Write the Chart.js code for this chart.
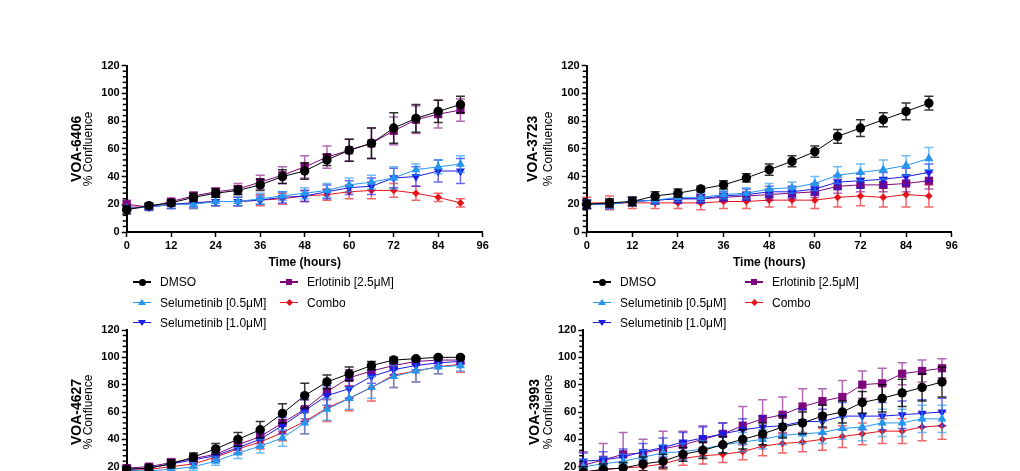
<!DOCTYPE html>
<html>
<head>
<meta charset="utf-8">
<script src="https://cdn.jsdelivr.net/npm/chart.js@4.4.1/dist/chart.umd.min.js"></script>
<style>
  html, body { margin: 0; padding: 0; background: #fff; }
  body { width: 1020px; height: 471px; overflow: hidden; position: relative;
         font-family: "Liberation Sans", Arial, sans-serif; }
  canvas { position: absolute; }
  .legend { position: absolute; left: 0; top: 0; font-size: 12px; color: #000; z-index: 2; }
  .item { position: absolute; height: 14px; white-space: nowrap; }
  .line { position: absolute; left: 0; top: 6px; width: 18px; height: 1.5px; }
  .sym { position: absolute; }
  .txt { position: absolute; left: 27px; top: 0; line-height: 14px; }
</style>
</head>
<body>
<canvas id="c6406"></canvas>
<canvas id="c3723"></canvas>
<canvas id="c4627"></canvas>
<canvas id="c3993"></canvas>
<div class="legend" id="legend"></div>
<script>
const FONT = '"Liberation Sans", Arial, sans-serif';

// time points (hours)
const hoursA = [0, 6, 12, 18, 24, 30, 36, 42, 48, 54, 60, 66, 72, 78, 84, 90];
const hoursB = [0, 6, 12, 18, 24, 30, 36, 42, 48, 54, 60, 66, 72, 78, 84, 90, 96, 102, 108];
const xTicksA = [0, 12, 24, 36, 48, 60, 72, 84, 96];
const xTicksB = [0, 12, 24, 36, 48, 60, 72, 84, 96, 108];
const yTicks = [0, 20, 40, 60, 80, 100, 120];

const seriesNames = ['DMSO', 'Selumetinib [0.5μM]', 'Selumetinib [1.0μM]', 'Erlotinib [2.5μM]', 'Combo'];

// VOA-6406  (mean, SD)
const dmso6406 = [16, 19, 21, 25, 28, 30, 34, 40, 44, 52, 59, 64, 75, 82, 87, 92];
const dmso6406Err = [3, 2, 2, 3, 3, 3, 4, 5, 6, 4, 8, 11, 11, 10, 8, 6];
const sel05_6406 = [17, 18, 20, 20, 22, 22, 24, 26, 28, 30, 34, 36, 39, 45, 47, 49];
const sel05_6406Err = [2, 2, 3, 3, 3, 3, 4, 3, 4, 5, 5, 5, 8, 4, 5, 6];
const sel10_6406 = [17, 18, 20, 21, 22, 22, 23, 25, 26, 29, 32, 33, 39, 40, 44, 44];
const sel10_6406Err = [2, 2, 3, 3, 3, 3, 3, 4, 4, 5, 5, 6, 7, 7, 8, 9];
const erlo6406 = [20, 18, 22, 26, 29, 31, 36, 41, 47, 54, 59, 64, 73, 81, 85, 88];
const erlo6406Err = [3, 2, 2, 3, 3, 4, 5, 6, 8, 8, 8, 11, 10, 10, 10, 8];
const combo6406 = [18, 18, 20, 21, 22, 22, 23, 24, 26, 27, 29, 30, 30, 28, 25, 21];
const combo6406Err = [2, 2, 3, 4, 3, 3, 4, 4, 4, 4, 5, 6, 5, 5, 3, 3];

// VOA-3723
const dmso3723 = [20, 21, 22, 26, 28, 31, 34, 39, 45, 51, 58, 69, 75, 81, 87, 93];
const dmso3723Err = [3, 3, 3, 3, 3, 2, 3, 3, 4, 4, 4, 5, 6, 5, 6, 5];
const sel05_3723 = [20, 20, 22, 23, 25, 25, 27, 28, 31, 32, 35, 41, 43, 45, 48, 53];
const sel05_3723Err = [3, 3, 3, 3, 3, 3, 3, 4, 4, 4, 5, 6, 6, 7, 7, 8];
const sel10_3723 = [20, 20, 22, 23, 24, 24, 26, 27, 29, 29, 31, 36, 37, 38, 40, 43];
const sel10_3723Err = [3, 3, 3, 3, 3, 3, 3, 4, 4, 4, 4, 5, 5, 5, 6, 6];
const erlo3723 = [20, 20, 22, 23, 24, 24, 25, 26, 27, 28, 29, 33, 34, 34, 35, 37];
const erlo3723Err = [3, 3, 3, 3, 3, 3, 3, 3, 4, 4, 4, 5, 5, 5, 6, 6];
const combo3723 = [21, 21, 21, 21, 21, 21, 22, 22, 23, 23, 23, 25, 26, 25, 27, 26];
const combo3723Err = [4, 5, 4, 4, 4, 5, 5, 5, 5, 5, 6, 7, 7, 7, 9, 8];

// VOA-4627
const dmso4627 = [18, 19, 22, 27, 33, 40, 47, 59, 72, 82, 88, 94, 98, 99, 100, 100];
const dmso4627Err = [2, 2, 3, 3, 4, 5, 6, 7, 9, 5, 5, 3, 2, 1, 1, 1];
const sel05_4627 = [17, 17, 18, 20, 24, 30, 35, 41, 52, 62, 70, 78, 86, 90, 93, 94];
const sel05_4627Err = [2, 2, 2, 3, 3, 4, 5, 6, 8, 8, 8, 8, 8, 8, 5, 4];
const sel10_4627 = [18, 19, 22, 25, 28, 34, 40, 50, 61, 72, 77, 86, 91, 94, 96, 97];
const sel10_4627Err = [2, 2, 3, 3, 4, 4, 5, 6, 8, 7, 7, 5, 4, 3, 2, 2];
const erlo4627 = [19, 20, 23, 26, 29, 36, 42, 52, 62, 75, 85, 90, 94, 97, 98, 98];
const erlo4627Err = [2, 2, 3, 3, 4, 4, 5, 6, 7, 6, 6, 4, 3, 2, 2, 2];
const combo4627 = [17, 18, 20, 22, 27, 33, 38, 45, 53, 63, 70, 78, 87, 90, 93, 95];
const combo4627Err = [2, 2, 3, 3, 3, 4, 5, 6, 9, 10, 9, 10, 9, 8, 5, 6];

// VOA-3993
const dmso3993 = [16, 18, 19, 22, 24, 29, 32, 36, 40, 44, 49, 52, 57, 60, 67, 70, 74, 78, 82];
const dmso3993Err = [4, 4, 4, 5, 5, 5, 6, 6, 7, 8, 8, 8, 8, 8, 8, 10, 10, 10, 11];
const sel05_3993 = [20, 22, 24, 27, 30, 31, 33, 36, 38, 40, 43, 44, 45, 48, 49, 52, 52, 55, 55];
const sel05_3993Err = [5, 5, 5, 5, 6, 6, 6, 6, 7, 7, 7, 7, 8, 8, 10, 10, 10, 10, 10];
const sel10_3993 = [24, 25, 27, 31, 34, 38, 41, 44, 47, 49, 50, 53, 53, 57, 57, 57, 58, 59, 60];
const sel10_3993Err = [6, 6, 6, 6, 7, 7, 8, 8, 8, 8, 8, 9, 9, 10, 10, 10, 10, 10, 10];
const erlo3993 = [21, 25, 29, 30, 33, 36, 40, 44, 50, 55, 58, 64, 68, 71, 80, 81, 88, 90, 92];
const erlo3993Err = [10, 12, 16, 10, 13, 10, 10, 8, 14, 14, 13, 13, 9, 12, 10, 11, 8, 8, 7];
const combo3993 = [16, 18, 19, 20, 22, 26, 28, 29, 31, 35, 37, 38, 40, 42, 44, 46, 46, 49, 50];
const combo3993Err = [3, 3, 4, 4, 4, 5, 6, 6, 6, 7, 7, 7, 8, 8, 8, 9, 9, 10, 10];

// look of each treatment, same order as seriesNames
const looks = [
  { color: '#000000', err: 'rgba(0,0,0,0.8)', point: 'circle', radius: 4.7, rot: 0, css: 'circle' },
  { color: '#2596ee', err: 'rgba(37,150,238,0.65)', point: 'triangle', radius: 5.2, rot: 0, css: 'up' },
  { color: '#1c1ce6', err: 'rgba(28,28,230,0.65)', point: 'triangle', radius: 5.2, rot: 180, css: 'down' },
  { color: '#7d067d', err: 'rgba(125,6,125,0.6)', point: 'rect', radius: 5.8, rot: 0, css: 'square' },
  { color: '#e8141c', err: 'rgba(232,20,28,0.65)', point: 'rectRot', radius: 3.8, rot: 0, css: 'diamond' }
];

// error bars drawn just before each dataset's own line and markers
const errorBars = {
  id: 'errorBars',
  beforeDatasetDraw(chart, args) {
    const ds = chart.data.datasets[args.index];
    if (!ds.errors) return;
    const y = chart.scales.y;
    const ctx = chart.ctx;
    ctx.save();
    ctx.strokeStyle = ds.errorColor;
    ctx.lineWidth = 1.5;
    args.meta.data.forEach((pt, i) => {
      const v = ds.data[i].y, e = ds.errors[i];
      const top = y.getPixelForValue(v + e), bot = y.getPixelForValue(v - e);
      ctx.beginPath();
      ctx.moveTo(pt.x, top); ctx.lineTo(pt.x, bot);
      ctx.moveTo(pt.x - 4.5, top); ctx.lineTo(pt.x + 4.5, top);
      ctx.moveTo(pt.x - 4.5, bot); ctx.lineTo(pt.x + 4.5, bot);
      ctx.stroke();
    });
    ctx.restore();
  }
};

// short minor ticks on the y axis between the labelled ones
const minorTicks = {
  id: 'minorTicks',
  afterDraw(chart) {
    const y = chart.scales.y, ctx = chart.ctx, left = chart.chartArea.left;
    ctx.save();
    ctx.strokeStyle = '#000';
    ctx.lineWidth = 1.5;
    for (let v = y.min; v <= y.max; v += 4) {
      if (v % 20 === 0) continue;
      const py = y.getPixelForValue(v);
      ctx.beginPath(); ctx.moveTo(left - 4, py); ctx.lineTo(left, py); ctx.stroke();
    }
    ctx.restore();
  }
};

// two line y title: bold cell line name + regular "% Confluence"
const yTitle = {
  id: 'yTitle',
  afterDraw(chart, args, opts) {
    const { ctx, chartArea } = chart;
    const cy = (chartArea.top + chartArea.bottom) / 2;
    const fonts = ['bold 14px ' + FONT, '12px ' + FONT];
    opts.lines.forEach((txt, i) => {
      ctx.save();
      ctx.translate(chartArea.left - opts.dx[i], cy);
      ctx.rotate(-Math.PI / 2);
      ctx.font = fonts[i];
      ctx.fillStyle = '#000';
      ctx.textAlign = 'center';
      ctx.textBaseline = 'middle';
      ctx.fillText(txt, 0, 0);
      ctx.restore();
    });
  }
};

function makeDatasets(times, vals, errs) {
  return vals.map((v, k) => ({
    label: seriesNames[k],
    data: times.map((t, i) => ({ x: t, y: v[i] })),
    errors: errs[k],
    errorColor: looks[k].err,
    borderColor: looks[k].color,
    backgroundColor: looks[k].color,
    borderWidth: 1,
    pointStyle: looks[k].point,
    pointRadius: looks[k].radius,
    pointRotation: looks[k].rot,
    pointBorderWidth: 0,
    pointBackgroundColor: looks[k].color,
    tension: 0,
    clip: false
  }));
}

function makeChart(id, box, name, times, xTicks, xMax, vals, errs) {
  const cv = document.getElementById(id);
  cv.width = box.w; cv.height = box.h;
  cv.style.left = box.left + 'px'; cv.style.top = box.top + 'px';
  cv.style.width = box.w + 'px'; cv.style.height = box.h + 'px';
  return new Chart(cv, {
    type: 'line',
    data: { datasets: makeDatasets(times, vals, errs) },
    options: {
      responsive: false,
      animation: false,
      devicePixelRatio: 1,
      layout: { padding: { top: box.padTop, right: box.padRight, left: 0, bottom: 0 } },
      plugins: {
        legend: { display: false },
        tooltip: { enabled: false },
        yTitle: { lines: [name, '% Confluence'], dx: box.dx }
      },
      scales: {
        x: {
          type: 'linear',
          min: 0,
          max: xMax,
          afterBuildTicks: s => { s.ticks = xTicks.map(v => ({ value: v })); },
          ticks: { color: '#000', font: { family: FONT, size: 11, weight: 'bold' }, padding: 2, maxRotation: 0 },
          grid: { drawOnChartArea: false, drawTicks: true, tickLength: 5, tickColor: '#000', tickWidth: 1.5 },
          border: { color: '#000', width: 2 },
          title: { display: true, text: 'Time (hours)', color: '#000',
                   font: { family: FONT, size: 12, weight: 'bold' }, padding: { top: 0, bottom: 6 } },
          afterFit: s => { s.height = 44; }
        },
        y: {
          min: 0,
          max: 120,
          afterBuildTicks: s => { s.ticks = yTicks.map(v => ({ value: v })); },
          ticks: { color: '#000', font: { family: FONT, size: 11, weight: 'bold' }, padding: 2 },
          grid: { drawOnChartArea: false, drawTicks: true, tickLength: 5, tickColor: '#000', tickWidth: 1.5 },
          border: { color: '#000', width: 2 },
          afterFit: s => { s.width = box.yWidth; }
        }
      }
    },
    plugins: [errorBars, minorTicks, yTitle]
  });
}

const c1 = makeChart('c6406',
  { left: 50, top: 40, w: 460, h: 236, padTop: 25.7, padRight: 27.3, yWidth: 76.7, dx: [50, 38.5] },
  'VOA-6406', hoursA, xTicksA, 96,
  [dmso6406, sel05_6406, sel10_6406, erlo6406, combo6406],
  [dmso6406Err, sel05_6406Err, sel10_6406Err, erlo6406Err, combo6406Err]);

const c2 = makeChart('c3723',
  { left: 510, top: 40, w: 470, h: 236, padTop: 25.7, padRight: 28.3, yWidth: 76.7, dx: [53.5, 38.5] },
  'VOA-3723', hoursA, xTicksA, 96,
  [dmso3723, sel05_3723, sel10_3723, erlo3723, combo3723],
  [dmso3723Err, sel05_3723Err, sel10_3723Err, erlo3723Err, combo3723Err]);

makeChart('c4627',
  { left: 50, top: 305, w: 460, h: 233, padTop: 25, padRight: 27.3, yWidth: 76.7, dx: [50, 38] },
  'VOA-4627', hoursA, xTicksA, 96,
  [dmso4627, sel05_4627, sel10_4627, erlo4627, combo4627],
  [dmso4627Err, sel05_4627Err, sel10_4627Err, erlo4627Err, combo4627Err]);

makeChart('c3993',
  { left: 510, top: 305, w: 460, h: 233, padTop: 25, padRight: 28, yWidth: 73.3, dx: [48.5, 34.5] },
  'VOA-3993', hoursB, xTicksB, 108,
  [dmso3993, sel05_3993, sel10_3993, erlo3993, combo3993],
  [dmso3993Err, sel05_3993Err, sel10_3993Err, erlo3993Err, combo3993Err]);

// HTML legends under the two top panels, built from the chart datasets
const legendSlots = [[0, 0], [0, 1], [0, 2], [1, 0], [1, 1]];
const legendRows = [282.3, 302.5, 322.8];
function symbolCss(kind, color) {
  switch (kind) {
    case 'circle': return `left:5.5px;top:3.5px;width:7px;height:7px;border-radius:50%;background:${color};`;
    case 'square': return `left:6px;top:4px;width:6px;height:6px;background:${color};`;
    case 'up': return `left:5px;top:3.5px;width:0;height:0;border-left:4px solid transparent;border-right:4px solid transparent;border-bottom:6px solid ${color};`;
    case 'down': return `left:5px;top:4px;width:0;height:0;border-left:4px solid transparent;border-right:4px solid transparent;border-top:6px solid ${color};`;
    default: return `left:6.5px;top:4.5px;width:5px;height:5px;transform:rotate(45deg);background:${color};`;
  }
}
function buildLegend(chart, cols) {
  const host = document.getElementById('legend');
  chart.data.datasets.forEach((ds, k) => {
    const [c, r] = legendSlots[k];
    const item = document.createElement('div');
    item.className = 'item';
    item.style.left = cols[c] + 'px';
    item.style.top = (legendRows[r] - 7) + 'px';
    item.innerHTML =
      `<span class="line" style="background:${looks[k].color}"></span>` +
      `<span class="sym" style="${symbolCss(looks[k].css, looks[k].color)}"></span>` +
      `<span class="txt">${ds.label}</span>`;
    host.appendChild(item);
  });
}
buildLegend(c1, [133, 280]);
buildLegend(c2, [593, 745]);
</script>
</body>
</html>
